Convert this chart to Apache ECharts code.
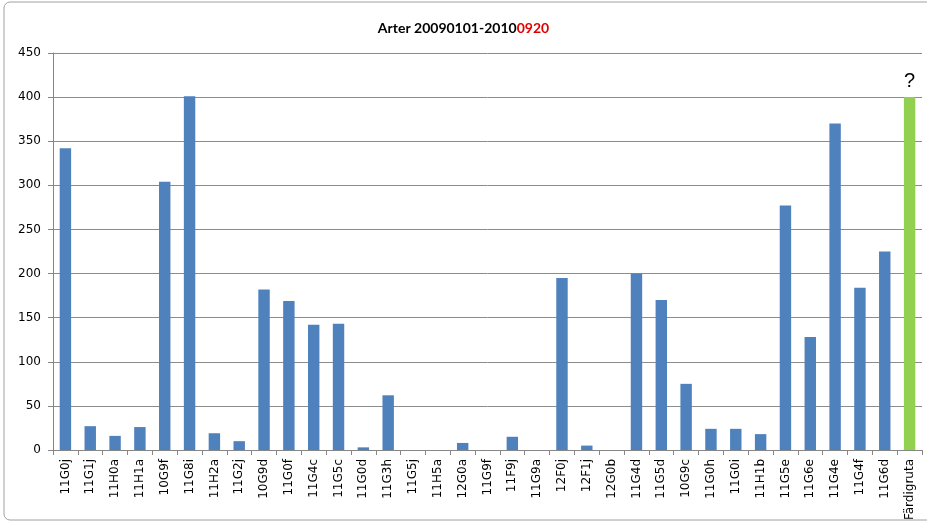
<!DOCTYPE html>
<html>
<head>
<meta charset="utf-8">
<script src="https://cdn.jsdelivr.net/npm/echarts@6/dist/echarts.min.js"></script>
<style>
  html, body { margin: 0; padding: 0; background: #fff; }
  #chart { width: 927px; height: 525px; }
</style>
</head>
<body>
<div id="chart"></div>
<script>
const categories = [
  '11G0j', '11G1j', '11H0a', '11H1a', '10G9f', '11G8i', '11H2a', '11G2j', '10G9d', '11G0f',
  '11G4c', '11G5c', '11G0d', '11G3h', '11G5j', '11H5a', '12G0a', '11G9f', '11F9j', '11G9a',
  '12F0j', '12F1j', '12G0b', '11G4d', '11G5d', '10G9c', '11G0h', '11G0i', '11H1b', '11G5e',
  '11G6e', '11G4e', '11G4f', '11G6d', 'Färdigruta'
]
const values = [
  342, 27, 16, 26, 304, 401, 19, 10, 182, 169,
  142, 143, 3, 62, 0, 0, 8, 0, 15, 0,
  195, 5, 0, 200, 170, 75, 24, 24, 18, 277,
  128, 370, 184, 225, 400
]
const targetName = 'Färdigruta'
const yTicks = { min: 0, max: 450, interval: 50 }

const blue = '#4f81bd'
const green = '#92d050'

const chart = echarts.init(document.getElementById('chart'))

// the last bar is the goal, drawn green with a "?" on top
const seriesData = values.map((v, i) => {
  if (categories[i] !== targetName) return v
  return {
    value: v,
    itemStyle: { color: green },
    label: { show: true, position: 'top', formatter: '?', fontSize: 20, color: '#000', distance: 6, fontFamily: 'Liberation Sans' }
  }
})

chart.setOption({
  animation: false,
  title: {
    text: '{a|Arter 20090101-2010}{b|0920}',
    left: 'center',
    top: 16,
    textStyle: {
      rich: {
        a: { fontFamily: 'Lato', fontWeight: 'bold', fontSize: 14, color: '#000' },
        b: { fontFamily: 'Lato', fontWeight: 'bold', fontSize: 14, color: '#e00000' }
      }
    }
  },
  graphic: [{
    type: 'rect',
    shape: { x: 4, y: 2, width: 930, height: 518, r: 6 },
    style: { fill: 'none', stroke: '#a0a0a0', lineWidth: 1 },
    silent: true
  }],
  grid: { left: 53, right: 5, top: 53, bottom: 75 },
  xAxis: {
    type: 'category',
    data: categories,
    axisLine: { lineStyle: { color: '#868686' } },
    axisTick: { show: true, length: 5, lineStyle: { color: '#868686' } },
    axisLabel: {
      rotate: 90,
      interval: 0,
      margin: 9,
      fontFamily: 'DejaVu Sans',
      fontSize: 12,
      color: '#000'
    }
  },
  yAxis: {
    type: 'value',
    min: yTicks.min,
    max: yTicks.max,
    interval: yTicks.interval,
    axisLine: { show: true, lineStyle: { color: '#868686' } },
    axisTick: { show: true, length: 5, lineStyle: { color: '#868686' } },
    splitLine: { lineStyle: { color: '#8c8c8c' } },
    axisLabel: { fontFamily: 'DejaVu Sans', fontSize: 12, color: '#000', margin: 12 }
  },
  series: [{
    type: 'bar',
    data: seriesData,
    barWidth: '46%',
    itemStyle: { color: blue }
  }]
})
</script>
</body>
</html>
